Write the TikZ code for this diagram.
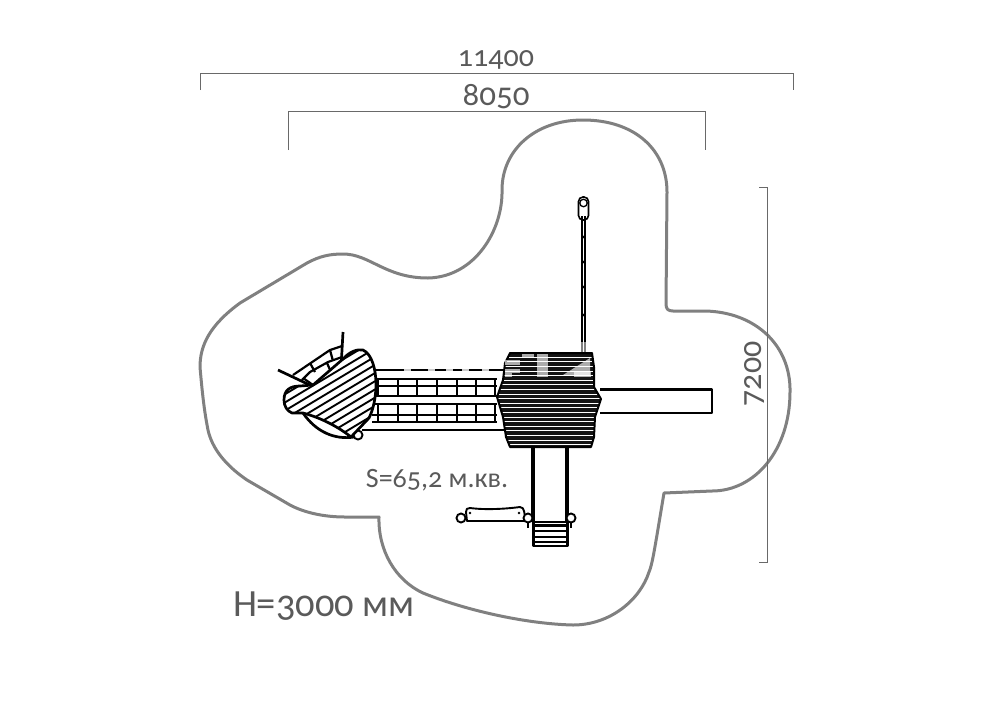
\documentclass[tikz,border=0pt]{standalone}
\usepackage{fontspec}
\setmainfont[Numbers=OldStyle]{Carlito}
\usetikzlibrary{positioning, calc}
\definecolor{border}{RGB}{128, 128, 128}
\definecolor{dimline}{RGB}{105, 105, 105}
\definecolor{dimtext}{RGB}{90, 90, 90}

\begin{document}
\begin{tikzpicture}[
    x=1pt, y=-1pt,
    % Global styles
    zone/.style={draw=border, line width=3pt, line join=round},
    dimen/.style={draw=dimline, line width=1pt},
    dimlabel/.style={text=dimtext, inner sep=0pt, font=\fontsize{#1}{#1}\selectfont},
    part/.style={draw=black, line width=2.7pt, line join=round},
    thin part/.style={draw=black, line width=1.9pt, line join=round},
    ring/.style={circle, minimum size=9pt, inner sep=0pt, draw=black, line width=1.9pt, fill=white},
    roof/.style={insert path={(284,400) .. controls (284,390) and (290,386) .. (300,386)
        -- (313,385) -- (343,359) .. controls (350,351) and (358,349) .. (363,350)
        .. controls (372,354) and (376,370) .. (376,384)
        .. controls (376,398) and (373,410) .. (369,418)
        -- (351,437) .. controls (340,428) and (322,418) .. (303,413)
        -- (292,413) .. controls (287,411) and (284,406) .. (284,400) -- cycle}},
    tower/.style={insert path={(510,353) -- (592,353) -- (594,367) -- (594,387) -- (601,399)
        -- (595,417) -- (594,437) -- (591,447) -- (510,447) -- (506,437) -- (503,417)
        -- (497,397) -- (503,380) -- (505,363) -- cycle}}
]
\useasboundingbox (0,0) rectangle (1000,707);

% --- Safety zone ---
\draw [zone] (583,120)
    .. controls (635,120) and (667,150) .. (667,192)
    -- (666,304) .. controls (666,309) and (668,311) .. (673,311)
    -- (705,311) .. controls (755,312) and (791,345) .. (790,392)
    .. controls (790,450) and (755,491) .. (712,491)
    -- (664,493) -- (657,535) .. controls (654,552) and (652,565) .. (649,572)
    .. controls (640,600) and (610,625) .. (573,625)
    .. controls (530,624) and (470,612) .. (423,593)
    .. controls (395,580) and (378,550) .. (379,517)
    -- (345,517) .. controls (325,517) and (305,513) .. (290,505)
    -- (247,480) .. controls (225,465) and (212,448) .. (208,430)
    .. controls (204,410) and (202,390) .. (200,367)
    .. controls (200,345) and (210,325) .. (240,303)
    -- (307,263) .. controls (320,256) and (330,254) .. (343,254)
    .. controls (370,254) and (385,278) .. (428,278)
    .. controls (475,277) and (503,230) .. (502,190)
    .. controls (502,150) and (535,120) .. (583,120) -- cycle;

% --- Dimensions ---
\draw [dimen] (200,90) -- (200,73) -- (793,73) -- (793,90);
\draw [dimen] (288,150) -- (288,111) -- (705,111) -- (705,150);
\draw [dimen] (759,187) -- (767,187) -- (767,562) -- (759,562);
\node (width_all) [dimlabel=30] at (496,60) {11400};
\node (width_set) [dimlabel=33] at (496,97) {8050};
\node (depth_all) [dimlabel=32, rotate=90] at (754,374) {7200};
\node (area) [dimlabel=28] at (437,480) {S=65,2 м.кв.};
\node (height) [dimlabel=38.5] at (324,606) {H=3000 мм};

% --- Rope ladder ---
\draw [draw=black, line width=1.6pt] (581.8,216) -- (581.8,342);
\draw [draw=black, line width=1.6pt] (585.2,216) -- (585.2,342);
\draw [draw=black!50, line width=1.6pt] (581.8,342) -- (581.8,353);
\draw [draw=black!50, line width=1.6pt] (585.2,342) -- (585.2,353);
\foreach \yy in {237,262,287,315}
    \fill (583.5,\yy) circle (1.3pt);
\draw [draw=black, line width=1.6pt, rounded corners=4.5pt] (578.5,197) rectangle (588.5,220);
\node (ladder_ring) [ring, minimum size=7.5pt, line width=1.3pt] at (583.5,203) {};

% --- Bridge ---
\foreach \yy in {370,430}
    \draw [thin part] (362,\yy) -- (505,\yy);
\foreach \yy in {379,386,396,404,415,422}
    \draw [part] (372,\yy) -- (497,\yy);
\foreach \xx in {378,398,417,437,457,476,495} {
    \draw [part] (\xx,378) -- (\xx,396);
    \draw [part] (\xx,404) -- (\xx,422);
}

% --- Deck with the hatched roof ---
\draw [part] (303,413) .. controls (316,432) and (335,440) .. (354,437);
\node (roof_ring) [ring] at (358,435) {};
\draw [part] (278,370) -- (314,387);
\draw [part, line width=2.2pt] (293,375) -- (330,350) -- (342,346);
\draw [part, line width=2.2pt] (302,380) -- (310,372) -- (328,362) -- (342,357);
\draw [part, line width=2.2pt] (315,387) -- (342,368);
\draw [part] (343,332) -- (341,368);
\foreach \ax/\ay/\bx/\by in {330/350/333/361, 310/363/315/372, 327/363/331/372, 303/378/313/385}
    \draw [part, line width=2.2pt] (\ax,\ay) -- (\bx,\by);
\path [fill=white, roof];
\begin{scope}
    \clip [roof];
    \foreach \dd in {0,...,16}
        \draw [thin part] (270,{395+\dd*8.2}) -- (390,{323+\dd*8.2});
\end{scope}
\draw [part, roof];

% --- Slides ---
\draw [part, line width=2.8pt] (600,389.5) -- (712,389.5) -- (712,413) -- (600,413);
\draw [part, line width=3.6pt] (533,447) -- (533,522);
\draw [part, line width=3.6pt] (567,447) -- (567,522);

% --- Tower ---
\path [fill=white, tower];
\begin{scope}
    \clip [tower];
    \foreach \yy in {355,359.6,...,448}
        \draw [draw=black!92, line width=3.5pt] (495,\yy) -- (605,\yy);
\end{scope}
\draw [part, line width=2pt, tower];

% --- Watermark over the tower ---
\foreach \ax/\ay/\bx/\by in {505/360/520/365, 505/369/520/373, 505/373/512/377, 537/354/548/377, 522/354/534/357, 574/372/591/377}
    \path [fill=white, opacity=0.65] (\ax,\ay) rectangle (\bx,\by);
\path [fill=white, opacity=0.65] (563,375) -- (590,358) -- (590,375) -- cycle;
\foreach \xx in {404,428,446,462,482}
    \path [fill=white, opacity=0.8] (\xx,367) rectangle ({\xx+7},373);

% --- Steps and swing ---
\draw [part, line width=2.2pt] (533.5,522) rectangle (567.5,546);
\foreach \yy in {525.5,531,537,542}
    \draw [part, line width=2.2pt] (533.5,\yy) -- (567.5,\yy);
\draw [thin part] (467,521) -- (466,512) .. controls (466,509) and (467,508) .. (470,508)
    .. controls (485,510) and (505,509) .. (520,507) .. controls (523,507) and (523,509) .. (524,511)
    -- (526,521) -- cycle;
\fill (470,513) circle (1.4pt) (519,513) circle (1.4pt);
\draw [part, line width=2.2pt] (528,520) -- (528,528);
\draw [part, line width=2.2pt] (571,520) -- (571,528);
\node (seat_left) [ring] at (461,518) {};
\node (seat_right) [ring] at (528,518) {};
\node (step_right) [ring] at (571,518) {};
\end{tikzpicture}
\end{document}
